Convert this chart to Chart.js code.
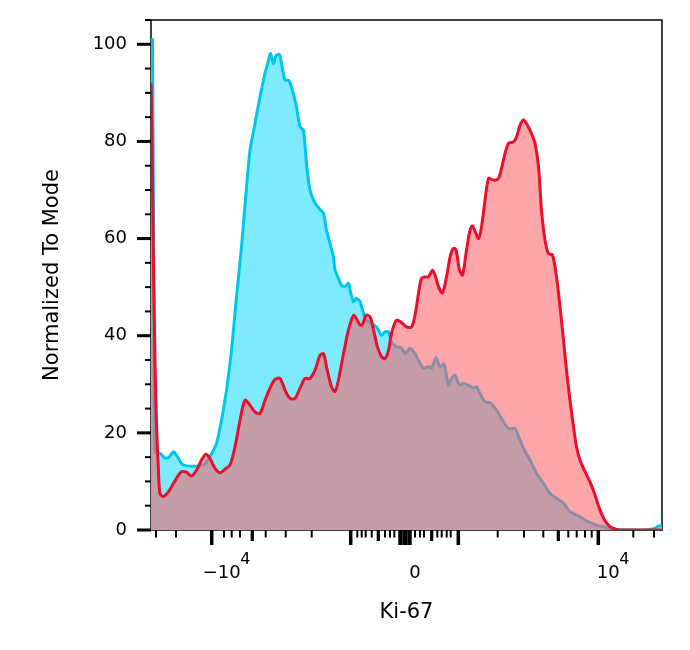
<!DOCTYPE html>
<html><head><meta charset="utf-8">
<script src="https://cdn.jsdelivr.net/npm/chart.js@4.4.1/dist/chart.umd.min.js"></script>
<style>html,body{margin:0;padding:0;background:#fff;}canvas{display:block;}</style>
</head><body>
<canvas id="c" width="690" height="650"></canvas>
<script>
// Display channel (0..1022) on a logicle Ki-67 axis; values = % of mode
const blueX = [0,3,6,8,18,28,35,45,51,61,71,98,108,118,131,141,151,161,171,181,191,198,208,218,228,235,239,245,250,257,261,268,275,281,291,298,305,311,318,325,331,338,345,351,358,365,368,375,381,388,395,399,405,411,418,425,431,441,451,461,468,475,481,491,501,508,518,528,538,545,555,561,570,578,586,595,601,608,617,625,635,645,651,658,668,678,691,705,715,728,738,745,758,771,785,798,811,825,838,855,871,891,911,931,958,988,1008,1014,1022];
const blueY = [101,101,40,16,15.8,14.8,14.9,16.1,15.4,13.7,13.2,13.2,13.7,15.1,17.8,22.6,28.8,37,48,58.3,70.6,78.2,83.7,89.2,94,96.7,98.1,96,97.7,97.9,96,92.6,92.6,91.2,87.1,83,82.3,75.4,70,67.9,66.9,66,65.2,61.7,59,56.2,53.5,51.8,50.4,50.1,50.8,49,47,47.7,47,44.6,43.2,42.5,41.8,40.1,40.8,40.8,38.7,37.7,37.5,36.3,37.4,36.3,34.3,33.3,33.6,33.3,35.5,33.6,34.2,29.8,31.2,31.9,29.8,30.2,29.8,29.2,29.5,28.1,26.4,26.2,24.7,22.3,20.9,20.9,18.5,16.8,14.4,11.7,9.6,7.5,6.5,5.5,3.8,2.9,1.9,1.0,0.5,0.1,0,0,0.3,0.8,0.8];
const redX = [0,2,5,8,11,15,18,25,35,45,55,61,71,81,91,101,110,118,128,138,148,158,168,178,188,198,208,218,228,238,248,258,268,278,288,298,308,318,328,338,345,351,361,368,375,385,395,405,411,418,423,430,438,445,453,461,468,475,481,491,501,511,521,528,535,541,548,555,563,568,575,583,591,599,605,610,617,623,631,638,643,650,655,661,668,675,681,688,695,701,708,715,725,731,738,745,751,761,768,775,781,788,795,803,811,818,825,831,838,845,851,858,868,878,888,898,908,918,928,938,1022];
const redY = [92,80,55,35,22,12,7.5,6.9,7.9,9.6,11.3,12,11.9,11.1,12.3,14.4,15.6,14.7,12.7,11.8,12.5,13.4,17.1,22.6,26.7,25.7,24.3,24,26.7,29.2,31,31.2,28.8,27.1,27.1,29.2,31.2,31.2,32.9,36,36.3,33.6,29.5,28.5,30.9,36.3,41.2,44.2,43.5,42.2,42.3,44.2,43.9,41.2,37.7,35.7,35.3,37,40.5,43.2,42.7,41.8,41.8,44.2,48.7,51.8,52.1,52.1,53.5,52.5,50.1,48.8,52.1,56.6,58,57.7,53.5,52.5,57.6,61.7,62.6,61,60,62.4,67.9,72.4,72.2,72,72.4,74.4,77.5,79.6,79.9,80.9,83.3,84.4,83.7,81.6,79.6,74.8,65.8,59.7,56.9,56.6,52.1,46,39.1,32.9,26.7,21.3,17.1,14.4,12,9.9,7.2,4.1,1.9,0.7,0.2,0,0];

const yLabelValues = [0,20,40,60,80,100];
const yMinorValues = [0,5,10,15,20,25,30,35,40,45,50,55,60,65,70,75,80,85,90,95,100,105];
// x tick marks (display channel) and kind: L = decade, M = half decade, B = zero, m = minor
const xTickCh = [10,50,121.4,146,161.4,178,202.6,229.4,269.4,321.4,399.4,412.6,421.4,429.4,441.4,454.6,468,478,486.6,499,508,517,528,538,546,561.4,572.6,581.4,591.4,599.4,614.6,693.4,746,784.6,814.6,834.6,851.4,868,881.4,894.6,964.6,1006];
const xTickKind = ['m','m','L','m','m','m','M','m','m','m','L','m','m','m','m','M','m','m','m','B','B','B','m','m','m','M','m','m','m','m','L','m','m','m','M','m','m','m','m','L','m','m'];
const xLabelCh = [121.4,508,894.6];
const xLabelBase = ['−10','0','10'];
const xLabelSup = ['4','','4'];

const FONT = "'DejaVu Sans', 'Liberation Sans', sans-serif";

const flowAxes = {
  id: 'flowAxes',
  beforeDatasetsDraw(chart) {
    const {ctx, chartArea: a} = chart;
    ctx.save();
    ctx.strokeStyle = '#000';
    ctx.lineWidth = 1.5;
    ctx.strokeRect(a.left, a.top, a.right - a.left, a.bottom - a.top);
    ctx.restore();
  },
  afterDraw(chart) {
    const {ctx, chartArea: a, scales} = chart;
    ctx.save();
    ctx.strokeStyle = '#000';
    ctx.lineCap = 'butt';
    yMinorValues.forEach(v => {
      const y = scales.y.getPixelForValue(v);
      const major = v % 20 === 0;
      ctx.lineWidth = major ? 3 : 2;
      ctx.beginPath();
      ctx.moveTo(a.left - (major ? 14 : 6), y);
      ctx.lineTo(a.left, y);
      ctx.stroke();
    });
    const len = {L: 15, B: 15, M: 11, m: 7.5};
    const wid = {L: 3.5, B: 4.5, M: 3.2, m: 2};
    xTickCh.forEach((c, i) => {
      const k = xTickKind[i];
      const x = scales.x.getPixelForValue(c);
      ctx.lineWidth = wid[k];
      ctx.beginPath();
      ctx.moveTo(x, a.bottom);
      ctx.lineTo(x, a.bottom + len[k]);
      ctx.stroke();
    });
    ctx.fillStyle = '#000';
    ctx.textBaseline = 'alphabetic';
    xLabelCh.forEach((c, i) => {
      const x = scales.x.getPixelForValue(c) + 10;
      ctx.font = '18px ' + FONT;
      const w = ctx.measureText(xLabelBase[i]).width;
      ctx.textAlign = 'center';
      ctx.fillText(xLabelBase[i], x, 578);
      if (xLabelSup[i]) {
        ctx.font = '16px ' + FONT;
        ctx.textAlign = 'left';
        ctx.fillText(xLabelSup[i], x + w / 2 - 0.5, 564);
      }
    });
    ctx.restore();
  }
};

const toPts = (xs, ys) => xs.map((x, i) => ({x: x, y: ys[i]}));
const noPad = s => { s.paddingTop = 0; s.paddingBottom = 0; s.paddingLeft = 0; s.paddingRight = 0; };

new Chart(document.getElementById('c'), {
  type: 'line',
  data: {
    datasets: [
      {
        label: 'Ki-67 stained',
        data: toPts(redX, redY),
        borderColor: '#E8102C',
        borderWidth: 3,
        backgroundColor: 'rgba(251,97,104,0.56)',
        fill: 'origin',
        pointRadius: 0,
        tension: 0.3
      },
      {
        label: 'Control',
        data: toPts(blueX, blueY),
        borderColor: '#00C6EE',
        borderWidth: 3,
        backgroundColor: 'rgb(125,234,253)',
        fill: 'origin',
        pointRadius: 0,
        tension: 0.2
      }
    ]
  },
  options: {
    responsive: false,
    animation: false,
    devicePixelRatio: 1,
    layout: {padding: {top: 20, right: 28, left: 0, bottom: 0}},
    plugins: {legend: {display: false}, tooltip: {enabled: false}},
    scales: {
      x: {
        type: 'linear', min: 0, max: 1022,
        grid: {display: false, drawTicks: false},
        border: {display: false},
        ticks: {display: false},
        title: {display: true, text: 'Ki-67', color: '#000', font: {family: FONT, size: 21}, padding: {top: 0, bottom: 25}},
        afterFit: s => { s.height = 120; noPad(s); }
      },
      y: {
        type: 'linear', min: 0, max: 105,
        grid: {display: false, drawTicks: false},
        border: {display: false},
        ticks: {color: '#000', padding: 24, font: {family: FONT, size: 18}},
        afterBuildTicks: s => { s.ticks = yLabelValues.map(v => ({value: v})); },
        title: {display: true, text: 'Normalized To Mode', color: '#000', font: {family: FONT, size: 21}, padding: {top: 40, bottom: 0}},
        afterFit: s => { s.width = 151; noPad(s); }
      }
    }
  },
  plugins: [flowAxes]
});
</script>
</body></html>
